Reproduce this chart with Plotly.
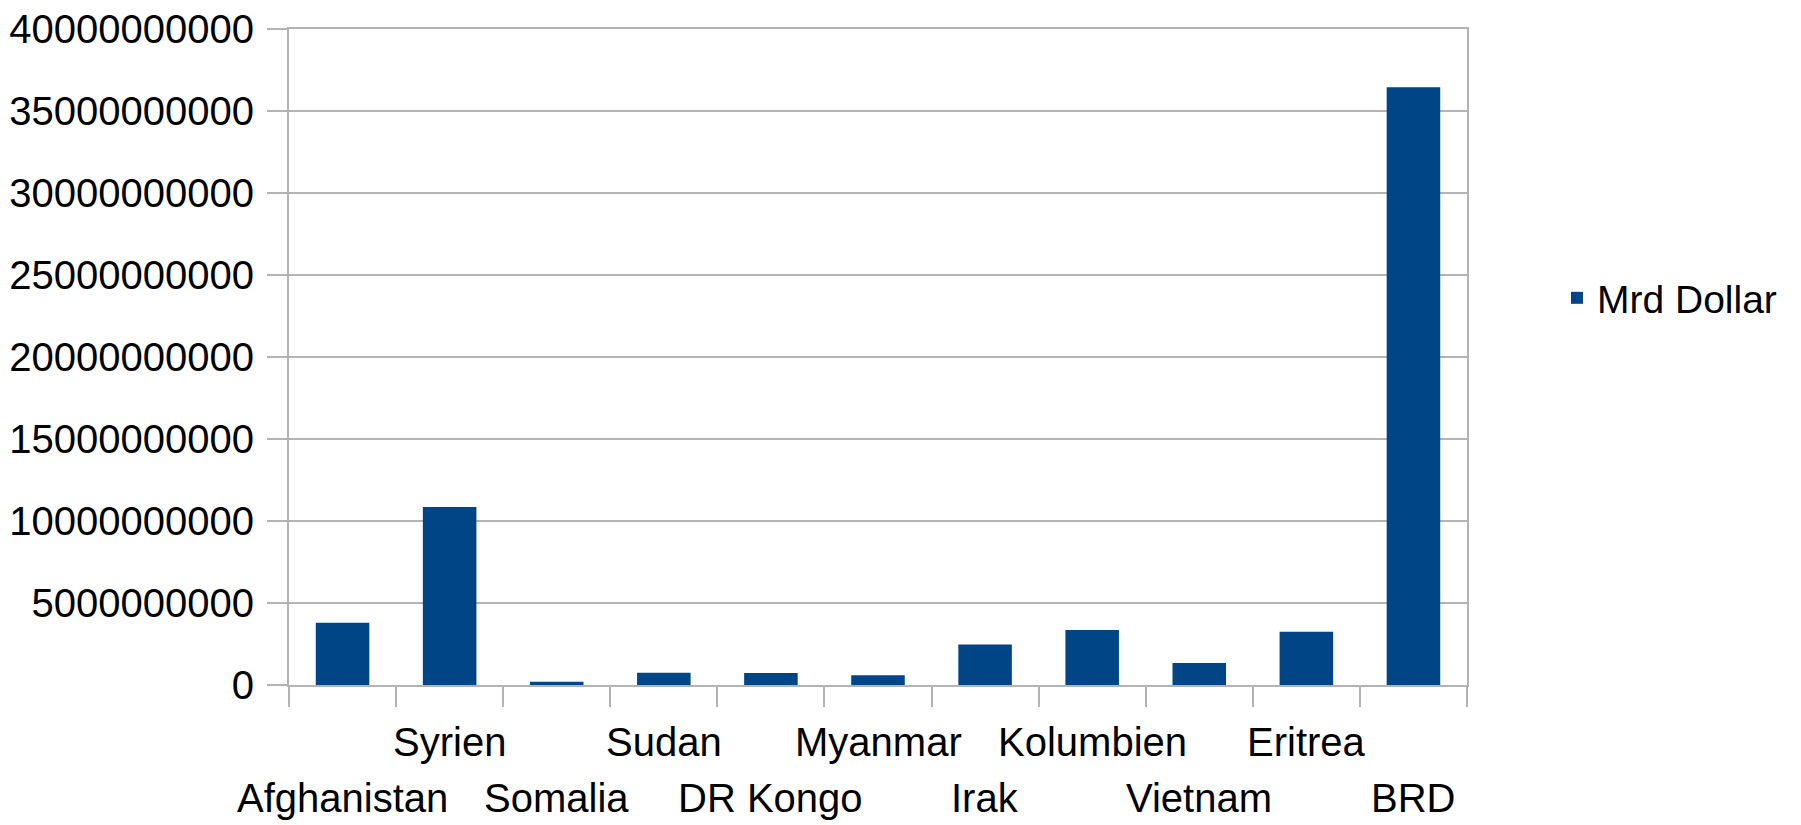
import plotly.graph_objects as go

categories = ["Afghanistan", "Syrien", "Somalia", "Sudan", "DR Kongo", "Myanmar",
              "Irak", "Kolumbien", "Vietnam", "Eritrea", "BRD"]
values = [3.8e9, 10.85e9, 0.2e9, 0.75e9, 0.73e9, 0.6e9,
          2.47e9, 3.35e9, 1.34e9, 3.25e9, 36.45e9]
series_name = "Mrd Dollar"
y_ticks = [0, 5e9, 10e9, 15e9, 20e9, 25e9, 30e9, 35e9, 40e9]

FONT = "Liberation Sans, Arial, sans-serif"
GRID = "#b3b3b3"
BAR = "#004586"

fig = go.Figure()
fig.add_trace(go.Bar(x=categories, y=values, name=series_name,
                     marker=dict(color=BAR, line=dict(width=0)),
                     showlegend=True))

# staggered category labels (two rows, as in the original)
for i, c in enumerate(categories):
    fig.add_annotation(x=c, xref="x", y=0, yref="paper", yanchor="top",
                       yshift=-33 if i % 2 == 1 else -89,
                       text=c, showarrow=False,
                       font=dict(family=FONT, size=40, color="#000000"))

# the page body has an 8px default margin, so the figure is sized to fit
fig.update_layout(
    width=1793, height=817,
    margin=dict(l=281, r=334, t=21, b=140, autoexpand=False),
    paper_bgcolor="white", plot_bgcolor="white",
    bargap=0.5,
    font=dict(family=FONT, size=39, color="#000000"),
    legend=dict(x=1.0764, xanchor="left", y=0.59, yanchor="middle",
                font=dict(family=FONT, size=39, color="#000000"),
                bgcolor="rgba(0,0,0,0)"),
    xaxis=dict(type="category", range=[-0.5, len(categories) - 0.5],
               autorange=False, automargin=False,
               showticklabels=False, showgrid=False,
               ticks="outside", tickson="boundaries", ticklen=20,
               tickwidth=2, tickcolor=GRID,
               showline=True, mirror=True, linecolor=GRID, linewidth=2),
    yaxis=dict(range=[0, 4e10], autorange=False, automargin=False,
               tickvals=y_ticks, tickformat="d",
               showgrid=True, gridcolor=GRID, gridwidth=2,
               zeroline=False,
               ticks="outside", ticklen=20, tickwidth=2, tickcolor=GRID,
               showline=True, mirror=True, linecolor=GRID, linewidth=2,
               ticklabelstandoff=5, ticklabeloverflow="allow",
               tickfont=dict(family=FONT, size=40, color="#000000")),
)

fig.write_html("out.html")
